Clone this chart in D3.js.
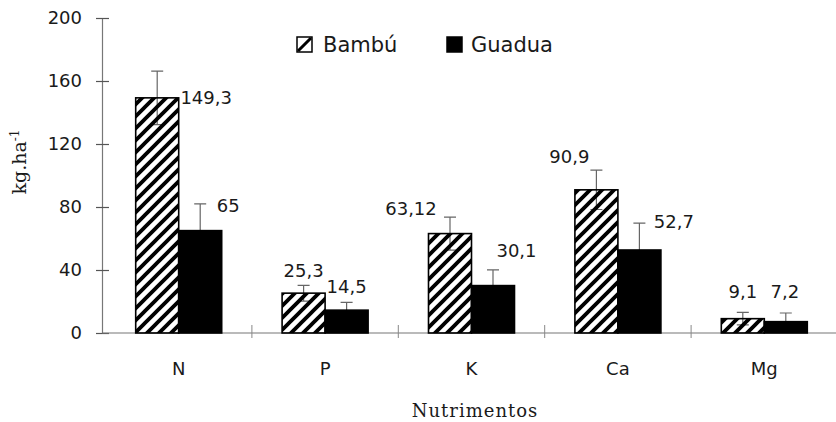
<!DOCTYPE html>
<html>
<head>
<meta charset="utf-8">
<script src="https://cdn.jsdelivr.net/npm/d3@7"></script>
<style>
  body { margin: 0; background: #fff; }
  svg text { fill: #1a1a1a; }
</style>
</head>
<body>
<svg id="chart" width="836" height="422"></svg>
<script>
// Nutrient contributions (kg.ha-1) for two plantation types
const categories = ["N", "P", "K", "Ca", "Mg"];
const series = ["Bambú", "Guadua"];
const bambu = [149.3, 25.3, 63.12, 90.9, 9.1];
const guadua = [65, 14.5, 30.1, 52.7, 7.2];
const bambuErr = [17, 5, 10.5, 12.5, 4];
const guaduaErr = [17, 5, 10, 17, 5.5];
const bambuLabels = ["149,3", "25,3", "63,12", "90,9", "9,1"];
const guaduaLabels = ["65", "14,5", "30,1", "52,7", "7,2"];
const yTicks = [0, 40, 80, 120, 160, 200];

// Label placement relative to the bar centre / bar top, in px
const bambuLabelOffset = [[49, 6], [0, -16], [-39, -18.5], [-27, -27], [0, -21]];
const guaduaLabelOffset = [[28, -18.5], [0, -17], [23.5, -28.5], [34.5, -22], [-1, -24]];

const svg = d3.select("#chart");
const axisX = 102, baseY = 333;

const y = d3.scaleLinear().domain([0, 200]).range([baseY, 18]);
const x = d3.scaleBand().domain(categories).range([105.5, 837.5]).paddingInner(0).paddingOuter(0);
const barW = 43;
const x1 = d3.scaleBand().domain(series).range([-barW, barW]);

// Hatch pattern for the Bambú series (transparent gaps)
const defs = svg.append("defs");
defs.append("pattern")
  .attr("id", "hatch")
  .attr("patternUnits", "userSpaceOnUse")
  .attr("width", 12).attr("height", 12)
  .append("path")
  .attr("d", "M-3,3 l6,-6 M0,12 l12,-12 M9,15 l6,-6")
  .attr("stroke", "#000").attr("stroke-width", 3.8);

const fills = { "Bambú": "url(#hatch)", "Guadua": "#000" };

// Y axis
const yAxis = svg.append("g")
  .attr("transform", `translate(${axisX},0)`)
  .call(d3.axisLeft(y).tickValues(yTicks).tickSizeInner(6).tickSizeOuter(0).tickPadding(14));
yAxis.select(".domain").attr("stroke", "#777").attr("stroke-width", 1.2);
yAxis.selectAll(".tick line").attr("x1", 7).attr("stroke", "#555").attr("stroke-width", 1.2);
yAxis.selectAll(".tick text")
  .attr("font-family", "DejaVu Sans").attr("font-size", 18).attr("fill", "#1a1a1a");

// Baseline and category separators
svg.append("line")
  .attr("x1", axisX).attr("x2", 836)
  .attr("y1", baseY).attr("y2", baseY)
  .attr("stroke", "#777").attr("stroke-width", 1.2);
svg.append("g").selectAll("line")
  .data(categories.slice(0, -1))
  .join("line")
  .attr("x1", d => x(d) + x.step()).attr("x2", d => x(d) + x.step())
  .attr("y1", baseY - 8).attr("y2", baseY + 5)
  .attr("stroke", "#888").attr("stroke-width", 1);

// Category labels
svg.append("g").selectAll("text")
  .data(categories)
  .join("text")
  .attr("x", d => x(d) + x.bandwidth() / 2)
  .attr("y", 375)
  .attr("text-anchor", "middle")
  .attr("font-family", "DejaVu Sans").attr("font-size", 18)
  .text(d => d);

// Bar records
const rows = [];
categories.forEach((c, i) => {
  rows.push({ cat: c, s: "Bambú", v: bambu[i], e: bambuErr[i], lab: bambuLabels[i], off: bambuLabelOffset[i] });
  rows.push({ cat: c, s: "Guadua", v: guadua[i], e: guaduaErr[i], lab: guaduaLabels[i], off: guaduaLabelOffset[i] });
});
const cx = d => x(d.cat) + x.bandwidth() / 2 + x1(d.s) + x1.bandwidth() / 2;

// Error bars, drawn first so solid bars cover their lower half
const eb = svg.append("g").attr("stroke", "#666").attr("stroke-width", 1.2).attr("fill", "none");
eb.selectAll("path")
  .data(rows)
  .join("path")
  .attr("d", d => {
    const c = cx(d), t = y(d.v + d.e), b = y(d.v - d.e);
    return `M${c},${t}V${b}M${c - 6},${t}H${c + 6}M${c - 6},${b}H${c + 6}`;
  });

// Bars
svg.append("g").selectAll("rect")
  .data(rows)
  .join("rect")
  .attr("x", d => x(d.cat) + x.bandwidth() / 2 + x1(d.s))
  .attr("y", d => y(d.v))
  .attr("width", x1.bandwidth())
  .attr("height", d => y(0) - y(d.v))
  .attr("fill", d => fills[d.s])
  .attr("stroke", "#000").attr("stroke-width", 1.6);

// Value labels
svg.append("g").selectAll("text")
  .data(rows)
  .join("text")
  .attr("x", d => cx(d) + d.off[0])
  .attr("y", d => y(d.v) + d.off[1])
  .attr("text-anchor", "middle")
  .attr("font-family", "DejaVu Sans").attr("font-size", 18)
  .text(d => d.lab);

// Legend
const legend = svg.append("g");
const legendX = [297, 447];
series.forEach((s, i) => {
  const g = legend.append("g").attr("transform", `translate(${legendX[i]},37)`);
  g.append("rect").attr("width", 15).attr("height", 15)
    .attr("fill", s === "Bambú" ? "#fff" : "#000")
    .attr("stroke", "#000").attr("stroke-width", 1.5);
  if (s === "Bambú") {
    g.append("path").attr("d", "M1,14 L14,1").attr("stroke", "#000").attr("stroke-width", 3);
  }
  g.append("text").attr("x", i === 0 ? 26 : 24).attr("y", 15)
    .attr("font-family", "DejaVu Sans").attr("font-size", 21)
    .text(s);
});

// Axis titles
const yt = svg.append("text")
  .attr("transform", "translate(26,162) rotate(-90)")
  .attr("text-anchor", "middle")
  .attr("font-family", "DejaVu Serif").attr("font-size", 19).attr("fill", "#333");
yt.append("tspan").text("kg.ha");
yt.append("tspan").attr("baseline-shift", "super").attr("font-size", 12).text("-1");

svg.append("text")
  .attr("x", 475).attr("y", 417)
  .attr("text-anchor", "middle")
  .attr("font-family", "DejaVu Serif").attr("font-size", 18)
  .attr("letter-spacing", 1).attr("fill", "#333")
  .text("Nutrimentos");
</script>
</body>
</html>
